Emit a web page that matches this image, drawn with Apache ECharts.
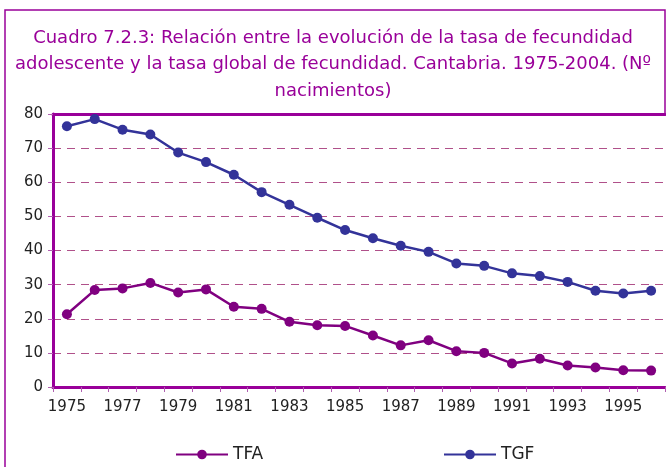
<!DOCTYPE html>
<html>
<head>
<meta charset="utf-8">
<script src="https://cdn.jsdelivr.net/npm/echarts@6/dist/echarts.min.js"></script>
<style>html,body{margin:0;padding:0;background:#fff}#c{width:666px;height:467px}</style>
</head>
<body>
<div id="c"></div>
<script>
const years = ['1975','1976','1977','1978','1979','1980','1981','1982','1983','1984','1985','1986','1987','1988','1989','1990','1991','1992','1993','1994','1995','1996'];
const tfa = [21.3,28.4,28.9,30.5,27.7,28.6,23.5,22.9,19.1,18.1,17.9,15.1,12.2,13.7,10.5,10.0,6.9,8.3,6.3,5.7,4.9,4.8];
const tgf = [76.4,78.5,75.4,74.0,68.7,65.9,62.2,57.1,53.4,49.6,46.0,43.6,41.4,39.6,36.2,35.5,33.3,32.5,30.8,28.2,27.4,28.2];
const titleText = 'Cuadro 7.2.3: Relación entre la evolución de la tasa de fecundidad\nadolescente y la tasa global de fecundidad. Cantabria. 1975-2004. (Nº\nnacimientos)';

const FONT = 'DejaVu Sans';
const purple = '#990099';
const chart = echarts.init(document.getElementById('c'));
chart.setOption({
  animation: false,
  backgroundColor: '#fff',
  textStyle: { fontFamily: FONT },
  title: {
    text: titleText, left: 'center', top: 25, padding: 0,
    textStyle: { color: purple, fontSize: 18, fontWeight: 'normal', lineHeight: 26.5, fontFamily: FONT }
  },
  graphic: [{
    type: 'polyline', shape: { points: [[5, 480], [5, 10], [665, 10], [665, 114]] },
    style: { fill: 'none', stroke: purple, lineWidth: 1.5 }, z: -1
  }],
  legend: [
    { data: ['TFA'], left: 170, top: 441, itemWidth: 52, itemHeight: 12, itemGap: 0,
      textStyle: { fontSize: 17, color: '#222', fontFamily: FONT } },
    { data: ['TGF'], left: 438, top: 441, itemWidth: 52, itemHeight: 12, itemGap: 0,
      textStyle: { fontSize: 17, color: '#222', fontFamily: FONT } }
  ],
  grid: { left: 53, right: 1, top: 114, bottom: 80, containLabel: false },
  xAxis: [{
    type: 'category', data: years, boundaryGap: true, position: 'bottom',
    axisLine: { lineStyle: { color: purple, width: 3 } },
    axisTick: { show: true, interval: 0, length: 5, lineStyle: { color: '#b060b0', width: 1 } },
    axisLabel: { interval: 1, color: '#222', fontSize: 15, margin: 13, fontFamily: FONT }
  }, {
    type: 'category', data: years, position: 'top', boundaryGap: true,
    axisLine: { show: true, lineStyle: { color: purple, width: 3 } },
    axisTick: { show: false }, axisLabel: { show: false }
  }],
  yAxis: {
    type: 'value', min: 0, max: 80, interval: 10,
    axisLine: { show: true, lineStyle: { color: purple, width: 3 } },
    axisTick: { show: true, length: 5, lineStyle: { color: '#b060b0', width: 1 } },
    axisLabel: { color: '#222', fontSize: 15, margin: 10, fontFamily: FONT },
    splitLine: { show: true, lineStyle: { color: '#b0508a', type: [8, 6], width: 1 } }
  },
  series: [
    { name: 'TFA', type: 'line', data: tfa, symbol: 'circle', symbolSize: 10,
      itemStyle: { color: '#800080' }, lineStyle: { color: '#800080', width: 2.5 } },
    { name: 'TGF', type: 'line', data: tgf, symbol: 'circle', symbolSize: 10,
      itemStyle: { color: '#333399' }, lineStyle: { color: '#333399', width: 2.5 } }
  ]
});
</script>
</body>
</html>
